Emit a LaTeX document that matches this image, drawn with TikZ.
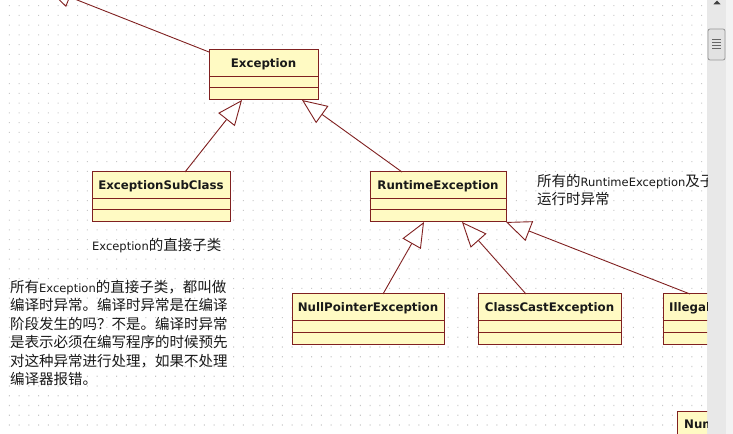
\documentclass[tikz,border=0pt]{standalone}
\usepackage{fontspec}
\setmainfont{DejaVu Sans}
\newfontfamily\cjk{Noto Sans CJK SC}
\newfontfamily\latfam{DejaVu Sans}
\newcommand\latw[1]{{\latfam\fontsize{11.5bp}{18.5bp}\selectfont #1}}
\usetikzlibrary{arrows.meta}
\definecolor{boxfill}{RGB}{255,250,195}
\definecolor{boxline}{RGB}{128,32,32}
\definecolor{dotc}{RGB}{200,200,200}
\definecolor{sbtrack}{RGB}{232,232,232}
\definecolor{sbstrip}{RGB}{243,243,243}
\definecolor{sbthumb}{RGB}{226,226,226}
\definecolor{sbedge}{RGB}{150,150,150}
\newcommand\compart[1]{%
  \draw[sepline] ([yshift=-27bp]#1.north west) -- ([yshift=-27bp]#1.north east);
  \draw[sepline] ([yshift=-38bp]#1.north west) -- ([yshift=-38bp]#1.north east);}
\begin{document}
\begin{tikzpicture}[x=1bp,y=-1bp,
  cls/.style={draw=boxline, fill=boxfill, line width=1bp, rectangle, inner sep=0pt, outer sep=0pt, minimum height=50bp},
  clsname/.style={font=\fontsize{11.8bp}{14bp}\bfseries\selectfont, inner sep=0pt, anchor=base, text=black!90},
  sepline/.style={draw=boxline, line width=1bp},
  gen/.style={draw=boxline, line width=0.9bp, -{Triangle[length=25bp,width=21bp,fill=white,line width=0.9bp]}},
  note/.style={font=\cjk\fontsize{14.5bp}{18.5bp}\selectfont, inner sep=0pt, align=left, anchor=north west, text=black!90}]
\useasboundingbox (0,0) rectangle (733,434);
% scrollbar
\fill[sbtrack] (707,0) rectangle (726,434);
\fill[sbstrip] (726,0) rectangle (733,434);
\draw[sbedge, fill=sbthumb, rounded corners=2bp, line width=0.8bp] (708,29) rectangle (725,60);
\foreach \yy in {39.5,42.5,45.5,48.5} \draw[black!60, line width=0.9bp] (712,\yy) -- (720.5,\yy);
\fill[black!75] (717,0.5) -- (713.3,4.5) -- (720.7,4.5) -- cycle;
\begin{scope}
\clip (0,0) rectangle (707,434);
\fill[white] (0,0) rectangle (707,434);
\foreach \j in {0,...,43} {
  \fill[dotc] \foreach \i in {0,...,71} {({9.3+9.75*\i-0.55},{5.7+9.75*\j-0.55}) rectangle ++(1.1,1.1)};
}
% classes
\node[cls, minimum width=109bp] (exc) at (263.5,75) {};
\node[cls, minimum width=138bp] (sub) at (161,197) {};
\node[cls, minimum width=136bp] (rt) at (438,197) {};
\node[cls, minimum width=152bp] (npe) at (368,319) {};
\node[cls, minimum width=143bp] (cce) at (549.5,319) {};
\node[cls, minimum width=185bp] (ill) at (755.5,319) {};
\node[cls, minimum width=186bp] (nfe) at (770,436) {};
\compart{exc}\compart{sub}\compart{rt}\compart{npe}\compart{cce}\compart{ill}
\node[clsname] (excn) at ([yshift=-18bp]exc.north) {Exception};
\node[clsname] (subn) at ([yshift=-18bp]sub.north) {ExceptionSubClass};
\node[clsname] (rtn) at ([yshift=-18bp]rt.north) {RuntimeException};
\node[clsname] (npen) at ([yshift=-18bp]npe.north) {NullPointerException};
\node[clsname] (ccen) at ([yshift=-18bp]cce.north) {ClassCastException};
\node[clsname, anchor=base west] (illn) at ([xshift=6bp,yshift=-18bp]ill.north west) {IllegalArgumentException};
\node[clsname, anchor=base west] (nfen) at ([xshift=7bp,yshift=-17bp]nfe.north west) {NumberFormatException};
% connectors
\coordinate (throwable) at (46.7,-12);
\draw[gen] ([yshift=-2bp]exc.north west) -- (throwable);
\draw[gen] ([xshift=24bp]sub.north) -- ([xshift=-21.5bp]exc.south);
\draw[gen] ([xshift=-36bp]rt.north) -- ([xshift=38.5bp]exc.south);
\draw[gen] ([xshift=15bp]npe.north) -- ([xshift=-14bp]rt.south);
\draw[gen] ([xshift=-23.5bp]cce.north) -- ([xshift=24bp]rt.south);
\draw[gen] ([xshift=27bp]ill.north west) -- (rt.south east);
% notes
\node[note] (n1) at (10,280) {所有\latw{Exception}的直接子类，都叫做\\编译时异常。编译时异常是在编译\\阶段发生的吗？不是。编译时异常\\是表示必须在编写程序的时候预先\\对这种异常进行处理，如果不处理\\编译器报错。};
\node[note, anchor=base west] (n2) at (92,250.5) {\latw{Exception}的直接子类};
\node[note] (n3) at (537,174) {所有的\latw{RuntimeException}及子\\运行时异常};
\end{scope}
\end{tikzpicture}
\end{document}
